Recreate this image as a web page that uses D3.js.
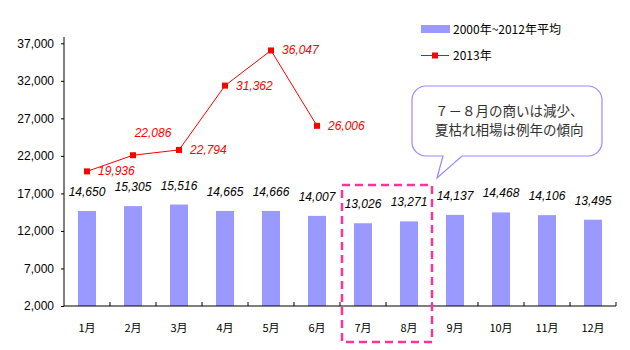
<!DOCTYPE html>
<html><head><meta charset="utf-8">
<script src="https://cdn.jsdelivr.net/npm/d3@7"></script>
<style>body{margin:0;background:#fff}svg{display:block}</style>
</head><body>
<svg id="c" width="630" height="350"></svg>
<script>
const months = ["1月","2月","3月","4月","5月","6月","7月","8月","9月","10月","11月","12月"];
const avgValues = [14650,15305,15516,14665,14666,14007,13026,13271,14137,14468,14106,13495];
const y2013Values = [19936,22086,22794,31362,36047,26006];
const yTicks = [2000,7000,12000,17000,22000,27000,32000,37000];
const legendLabels = ["2000年~2012年平均","2013年"];
const calloutLines = ["７－８月の商いは減少、","夏枯れ相場は例年の傾向"];

const svg = d3.select("#c");
const x = d3.scaleBand().domain(months).range([64,616]);
const y = d3.scaleLinear().domain([2000,37000]).range([306,43.3]);
const fmt = d3.format(",");
const cjk = "'Noto Sans CJK JP', sans-serif";
const lat = "'Liberation Sans', Arial, sans-serif";

// bars
svg.selectAll("rect.bar").data(avgValues).join("rect")
  .attr("x",(d,i)=>x(months[i])+x.bandwidth()/2-9).attr("width",18)
  .attr("y",d=>y(d)).attr("height",d=>y(2000)-y(d)).attr("fill","#9999FF");

// axes
const yAxis = d3.axisLeft(y).tickValues(yTicks).tickSize(3).tickFormat(fmt);
const gy = svg.append("g").attr("transform","translate(64,0)").call(yAxis);
gy.selectAll("text").attr("font-family",lat).attr("font-size",12).attr("fill","#000").attr("dx",-4);
gy.select(".domain").attr("d","M0,306V37").attr("stroke","#000");
gy.selectAll(".tick line").attr("stroke","#000");

svg.append("line").attr("x1",64).attr("x2",616).attr("y1",306).attr("y2",306).attr("stroke","#000");
svg.selectAll("line.xt").data(months.slice(1).concat(["end"])).join("line")
  .attr("x1",(d,i)=>64+x.bandwidth()*(i+1)).attr("x2",(d,i)=>64+x.bandwidth()*(i+1))
  .attr("y1",306).attr("y2",302).attr("stroke","#000");
svg.selectAll("text.xl").data(months).join("text")
  .attr("x",d=>x(d)+x.bandwidth()/2).attr("y",332).attr("text-anchor","middle")
  .attr("font-family",cjk).attr("font-size",11).attr("fill","#000").text(d=>d);

// bar labels
svg.selectAll("text.bl").data(avgValues).join("text")
  .attr("x",(d,i)=>x(months[i])+x.bandwidth()/2).attr("y",d=>y(d)-15)
  .attr("text-anchor","middle").attr("font-family",lat).attr("font-size",12)
  .attr("font-style","italic").attr("fill","#000").text(d=>fmt(d));

// line
const cx = i=>x(months[i])+x.bandwidth()/2;
svg.append("path").datum(y2013Values)
  .attr("d",d3.line().x((d,i)=>cx(i)).y(d=>y(d)))
  .attr("fill","none").attr("stroke","#FF0000").attr("stroke-width",1);
svg.selectAll("rect.mk").data(y2013Values).join("rect")
  .attr("x",(d,i)=>cx(i)-3).attr("y",d=>y(d)-3).attr("width",6).attr("height",6).attr("fill","#FF0000");
svg.selectAll("text.ll").data(y2013Values).join("text")
  .attr("x",(d,i)=> i===1 ? cx(i)+20 : cx(i)+11)
  .attr("y",(d,i)=> i===1 ? y(d)-18 : y(d)+4)
  .attr("text-anchor",(d,i)=> i===1 ? "middle" : "start")
  .attr("font-family",lat).attr("font-size",12).attr("font-style","italic")
  .attr("fill","#FF0000").text(d=>fmt(d));

// legend
svg.append("rect").attr("x",421).attr("y",25).attr("width",29).attr("height",8).attr("fill","#9999FF");
svg.append("line").attr("x1",421).attr("x2",449).attr("y1",55.5).attr("y2",55.5).attr("stroke","#FF0000");
svg.append("rect").attr("x",432).attr("y",52.5).attr("width",6).attr("height",6).attr("fill","#FF0000");
svg.selectAll("text.lg").data(legendLabels).join("text")
  .attr("x",453).attr("y",(d,i)=>i===0?33.5:60)
  .attr("font-family",cjk).attr("font-size",12).attr("fill","#000").text(d=>d);

// dashed highlight box
svg.append("rect").attr("x",342).attr("y",185).attr("width",90).attr("height",157)
  .attr("fill","none").attr("stroke","#FF3399").attr("stroke-width",2.5).attr("stroke-dasharray","8,5");

// callout
const bx0=412,bx1=602,by0=86,by1=156,r=14;
const p = d3.path();
p.moveTo(bx0+r,by0); p.lineTo(bx1-r,by0); p.arcTo(bx1,by0,bx1,by0+r,r);
p.lineTo(bx1,by1-r); p.arcTo(bx1,by1,bx1-r,by1,r);
p.lineTo(462,by1); p.lineTo(437,178); p.lineTo(443,by1);
p.lineTo(bx0+r,by1); p.arcTo(bx0,by1,bx0,by1-r,r);
p.lineTo(bx0,by0+r); p.arcTo(bx0,by0,bx0+r,by0,r); p.closePath();
svg.append("path").attr("d",p.toString()).attr("fill","#fff").attr("stroke","#9988FF").attr("stroke-width",1.2);
svg.selectAll("text.co").data(calloutLines).join("text")
  .attr("x",435).attr("y",(d,i)=>i===0?116:135).attr("text-anchor","start")
  .attr("font-family",cjk).attr("font-size",13.5).attr("fill","#333").text(d=>d);
</script>
</body></html>
